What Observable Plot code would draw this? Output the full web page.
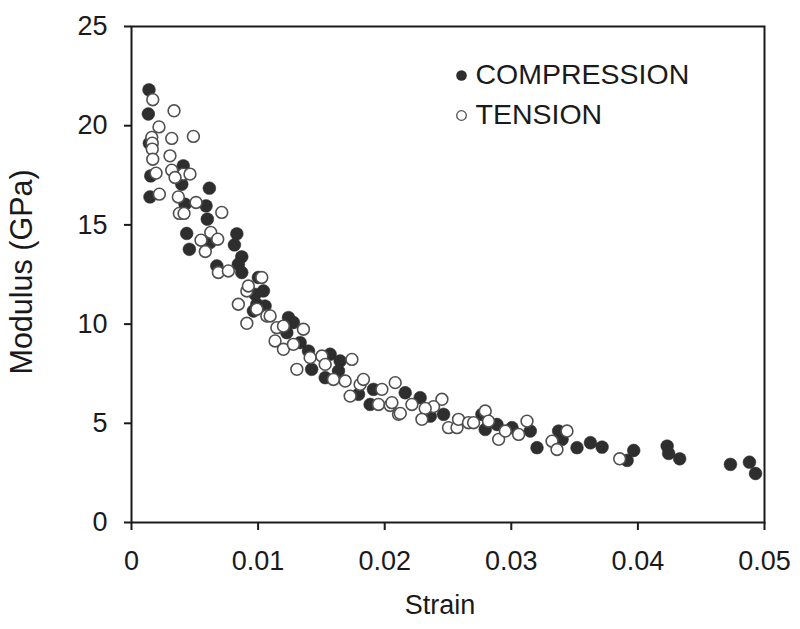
<!DOCTYPE html>
<html>
<head>
<meta charset="utf-8">
<script src="https://cdn.jsdelivr.net/npm/d3@7"></script>
<script src="https://cdn.jsdelivr.net/npm/@observablehq/plot@0.6"></script>
<style>
  html, body { margin: 0; padding: 0; background: #fff; }
  #chart { width: 800px; height: 629px; }
</style>
</head>
<body>
<div id="chart"></div>
<script>
// ---- data ----
const seriesNames = ["COMPRESSION", "TENSION"];

const compressionStrain = [
  0.00138, 0.00133, 0.00141, 0.00152, 0.00146, 0.00409, 0.00397, 0.00615, 0.00423, 0.00589,
  0.00599, 0.00436, 0.00457, 0.00832, 0.00813, 0.00871, 0.00844, 0.00674, 0.00621, 0.00871,
  0.01002, 0.01042, 0.00976, 0.00990, 0.00963, 0.01055, 0.01240, 0.01279, 0.01227, 0.01332,
  0.01398, 0.01569, 0.01648, 0.01423, 0.01530, 0.01635, 0.01793, 0.01911, 0.01885, 0.02162,
  0.02280, 0.02465, 0.02360, 0.02768, 0.02794, 0.02887, 0.03006, 0.03150, 0.03203, 0.03374,
  0.03401, 0.03519, 0.03625, 0.03717, 0.03915, 0.03967, 0.04231, 0.04243, 0.04330, 0.04731,
  0.04881, 0.04929
];
const compressionModulus = [
  21.81, 20.59, 19.12, 17.47, 16.41, 17.98, 17.05, 16.85, 16.04, 15.96,
  15.29, 14.57, 13.77, 14.55, 13.99, 13.39, 13.02, 12.93, 14.11, 12.60,
  12.35, 11.67, 11.50, 11.00, 10.66, 10.91, 10.33, 10.08, 9.57, 9.07,
  8.64, 8.48, 8.14, 7.72, 7.30, 7.63, 6.46, 6.71, 5.95, 6.54,
  6.29, 5.45, 5.36, 5.45, 4.69, 4.94, 4.78, 4.61, 3.77, 4.61,
  4.19, 3.77, 4.02, 3.80, 3.13, 3.63, 3.85, 3.48, 3.21, 2.93,
  3.04, 2.47
];

const tensionStrain = [
  0.00168, 0.00336, 0.00217, 0.00160, 0.00164, 0.00164, 0.00318, 0.00489, 0.00168, 0.00304,
  0.00318, 0.00409, 0.00462, 0.00344, 0.00194, 0.00220, 0.00370, 0.00510, 0.00378, 0.00415,
  0.00713, 0.00626, 0.00681, 0.00549, 0.00583, 0.00686, 0.00765, 0.01029, 0.00911, 0.00923,
  0.00844, 0.00990, 0.01069, 0.00911, 0.01095, 0.01148, 0.01200, 0.01358, 0.01134, 0.01200,
  0.01279, 0.01411, 0.01306, 0.01741, 0.01504, 0.01530, 0.01595, 0.01688, 0.01806, 0.01832,
  0.01727, 0.01978, 0.01951, 0.02043, 0.02083, 0.02109, 0.02215, 0.02123, 0.02057, 0.02452,
  0.02386, 0.02320, 0.02294, 0.02504, 0.02571, 0.02583, 0.02662, 0.02702, 0.02794, 0.02820,
  0.02900, 0.02953, 0.03058, 0.03124, 0.03440, 0.03322, 0.03361, 0.03856
];
const tensionModulus = [
  21.31, 20.75, 19.94, 19.41, 19.12, 18.82, 19.36, 19.46, 18.31, 18.48,
  17.76, 17.56, 17.56, 17.39, 17.61, 16.55, 16.41, 16.13, 15.58, 15.58,
  15.63, 14.62, 14.28, 14.23, 13.66, 12.60, 12.68, 12.35, 11.67, 11.92,
  11.00, 10.75, 10.41, 10.04, 10.41, 9.82, 9.90, 9.74, 9.15, 8.73,
  8.98, 8.31, 7.72, 8.22, 8.39, 7.97, 7.21, 7.13, 6.96, 7.21,
  6.37, 6.71, 5.95, 5.90, 7.05, 5.45, 5.95, 5.50, 6.04, 6.21,
  5.84, 5.75, 5.20, 4.78, 4.78, 5.20, 5.03, 5.03, 5.62, 5.11,
  4.19, 4.61, 4.44, 5.11, 4.61, 4.10, 3.68, 3.21
];

const xTicks = [0, 0.01, 0.02, 0.03, 0.04, 0.05];
const xTickLabels = ["0", "0.01", "0.02", "0.03", "0.04", "0.05"];
const yTicks = [0, 5, 10, 15, 20, 25];
const yTickLabels = ["0", "5", "10", "15", "20", "25"];
const xTitle = "Strain";
const yTitle = "Modulus (GPa)";

// ---- tables built from the arrays ----
const compression = compressionStrain.map((s, i) => ({strain: s, modulus: compressionModulus[i]}));
const tension = tensionStrain.map((s, i) => ({strain: s, modulus: tensionModulus[i]}));

const FONT = "'Liberation Sans', Arial, sans-serif";
const INK = "#1a1a1a";

const marks = [
  Plot.dot(compression, {x: "strain", y: "modulus", r: 6.4, fill: "#2e2e2e", stroke: "#2e2e2e", strokeWidth: 0.5}),
  Plot.dot(tension, {x: "strain", y: "modulus", r: 5.9, fill: "#ffffff", stroke: "#505050", strokeWidth: 1.6}),
  Plot.frame({stroke: INK, strokeWidth: 2}),
  // legend
  Plot.dot([seriesNames[0]], {frameAnchor: "top-left", dx: 330, dy: 49, r: 5.3, fill: "#2e2e2e"}),
  Plot.dot([seriesNames[1]], {frameAnchor: "top-left", dx: 330, dy: 89, r: 4.8, fill: "#ffffff", stroke: "#505050", strokeWidth: 1.3}),
  Plot.text([seriesNames[0]], {text: d => d, frameAnchor: "top-left", dx: 344, dy: 48, textAnchor: "start", lineAnchor: "middle", fontSize: 28.5, fill: INK}),
  Plot.text([seriesNames[1]], {text: d => d, frameAnchor: "top-left", dx: 344, dy: 88, textAnchor: "start", lineAnchor: "middle", fontSize: 28.5, fill: INK}),
  // axis titles
  Plot.text([xTitle], {text: d => d, frameAnchor: "bottom", dx: -8, dy: 83, lineAnchor: "middle", fontSize: 27, fill: INK}),
  Plot.text([yTitle], {text: d => d, frameAnchor: "left", dx: -109, dy: 100, rotate: -90, lineAnchor: "middle", fontSize: 30.5, fill: INK})
];

const hasAxisMarks = typeof Plot.axisX === "function";
if (hasAxisMarks) {
  marks.push(
    Plot.axisX({ticks: xTicks, tickSize: 8, tickPadding: 20, tickFormat: (d) => xTickLabels[xTicks.indexOf(d)], strokeWidth: 2, stroke: INK, fill: INK, fontSize: 27, label: null}),
    Plot.axisY({ticks: yTicks, tickSize: 7, tickPadding: 17, tickFormat: (d) => yTickLabels[yTicks.indexOf(d)], strokeWidth: 2, stroke: INK, fill: INK, fontSize: 27, label: null})
  );
}

const chart = Plot.plot({
  width: 800,
  height: 629,
  marginLeft: 131,
  marginRight: 36,
  marginTop: 26,
  marginBottom: 107,
  style: {fontFamily: FONT, fontSize: "27px", color: INK, background: "#fff"},
  x: {domain: [0, 0.05], ticks: xTicks, tickSize: 8, tickPadding: 20, tickFormat: (d) => xTickLabels[xTicks.indexOf(d)], label: null, axis: hasAxisMarks ? null : "bottom"},
  y: {domain: [0, 25], ticks: yTicks, tickSize: 7, tickPadding: 17, tickFormat: (d) => yTickLabels[yTicks.indexOf(d)], label: null, axis: hasAxisMarks ? null : "left"},
  marks
});

document.getElementById("chart").appendChild(chart);
</script>
</body>
</html>
